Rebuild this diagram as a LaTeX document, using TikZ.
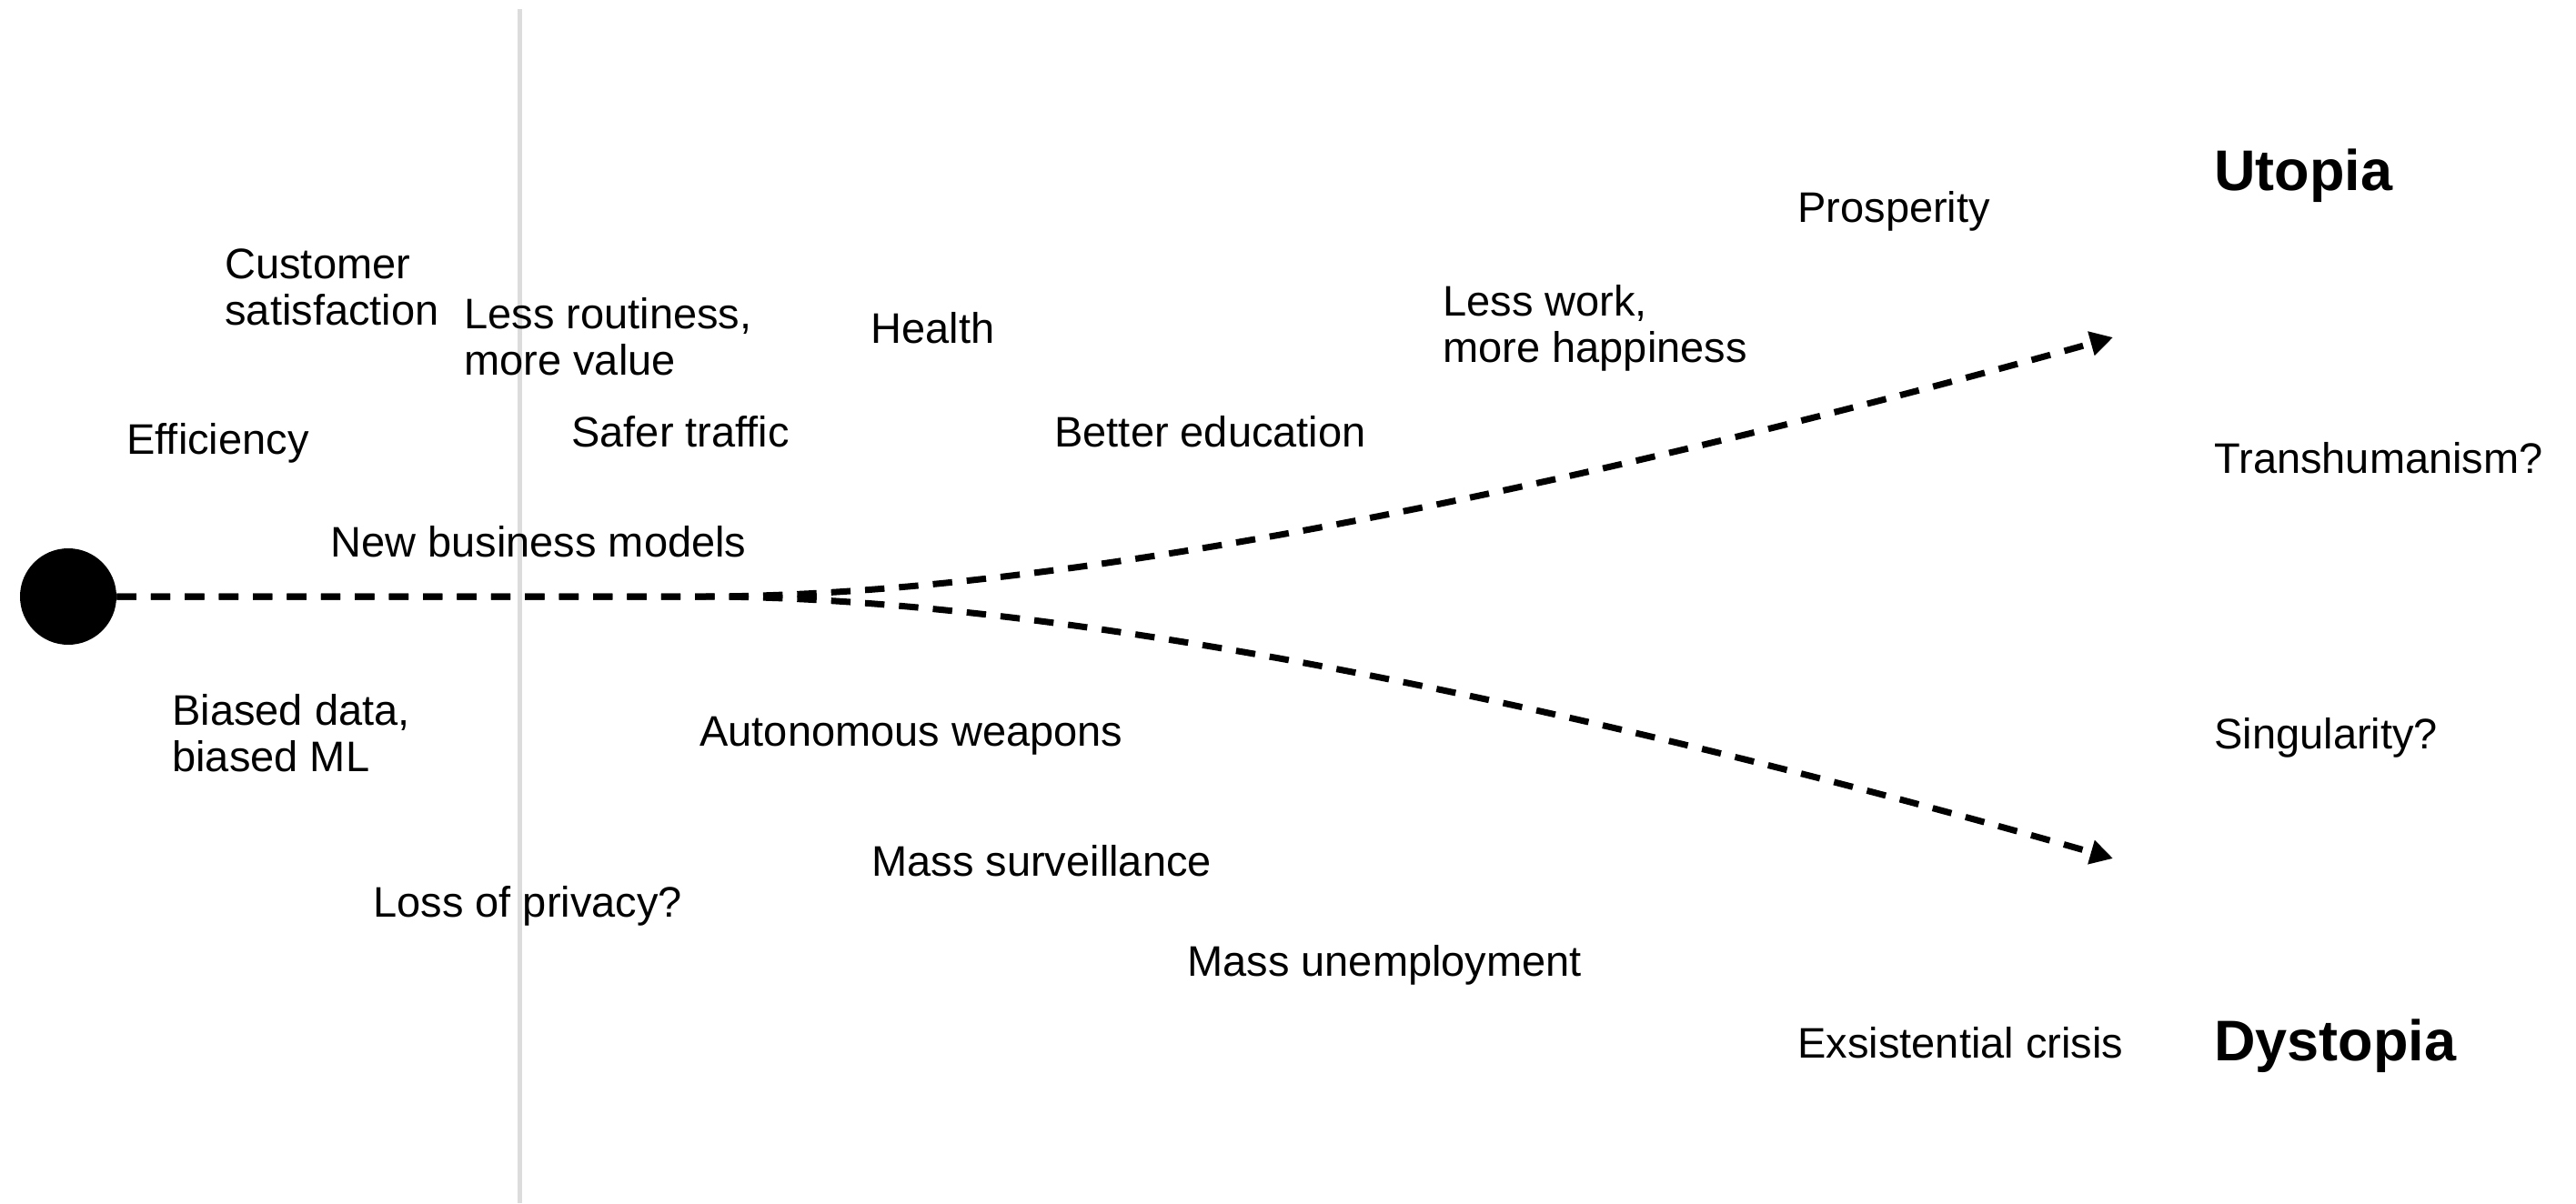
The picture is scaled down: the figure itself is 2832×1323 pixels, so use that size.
\documentclass[tikz,border=0pt]{standalone}
\usepackage{fontspec}
\setmainfont{Liberation Sans}
\usetikzlibrary{arrows.meta}
\definecolor{axisgray}{HTML}{DCDCDC}
\tikzset{
  lbl/.style={anchor=base west, inner sep=0pt, align=left, font=\fontsize{23.5}{25.5}\selectfont},
  big/.style={anchor=base west, inner sep=0pt, font=\fontsize{31.5}{36}\selectfont\bfseries},
  flow/.style={line width=3.5pt, dash pattern=on 10.7pt off 8pt, -{Triangle[length=12.5pt,width=13pt]}},
}
\begin{document}
\begin{tikzpicture}[x=0.5pt,y=-0.5pt]
\useasboundingbox (0,0) rectangle (2832,1323);
\fill[white] (0,0) rectangle (2832,1323);
% vertical gray line
\coordinate (vtop) at (571,10);
\coordinate (vbot) at (571,1323);
\draw[axisgray, line width=2.5pt] (vtop) -- (vbot);
% start dot
\node[circle, fill=black, inner sep=0pt, minimum size=53pt] (dot) at (75,656) {};
\coordinate (split) at (770,656);
\coordinate (utip) at (2323,371);
\coordinate (dtip) at (2323,944);
\draw[flow] (dot.east) -- (split) .. controls (1230,656) and (1880,495) .. (utip);
\draw[flow] (dot.east) -- (split) .. controls (1230,656) and (1880,817) .. (dtip);
% labels (multi-line labels are anchored at the baseline of their last line)
\node[lbl] (cust) at (247,357) {Customer\\satisfaction};
\node[lbl] (routine) at (510,412) {Less routiness,\\more value};
\node[lbl] (health) at (957,377) {Health};
\node[lbl] (work) at (1586,398) {Less work,\\more happiness};
\node[lbl] (prosp) at (1976,244) {Prosperity};
\node[big] (utopia) at (2434,209) {Utopia};
\node[lbl] (eff) at (139,499) {Efficiency};
\node[lbl] (traffic) at (628,491) {Safer traffic};
\node[lbl] (edu) at (1159,491) {Better education};
\node[lbl] (trans) at (2434,520) {Transhumanism?};
\node[lbl] (nbm) at (363,612) {New business models};
\node[lbl] (bias) at (189,848) {Biased data,\\biased ML};
\node[lbl] (weap) at (769,820) {Autonomous weapons};
\node[lbl] (sing) at (2434,823) {Singularity?};
\node[lbl] (surv) at (958,963) {Mass surveillance};
\node[lbl] (priv) at (410,1008) {Loss of privacy?};
\node[lbl] (unemp) at (1305,1073) {Mass unemployment};
\node[lbl] (crisis) at (1976,1163) {Exsistential crisis};
\node[big] (dystopia) at (2434,1166) {Dystopia};
\end{tikzpicture}
\end{document}
